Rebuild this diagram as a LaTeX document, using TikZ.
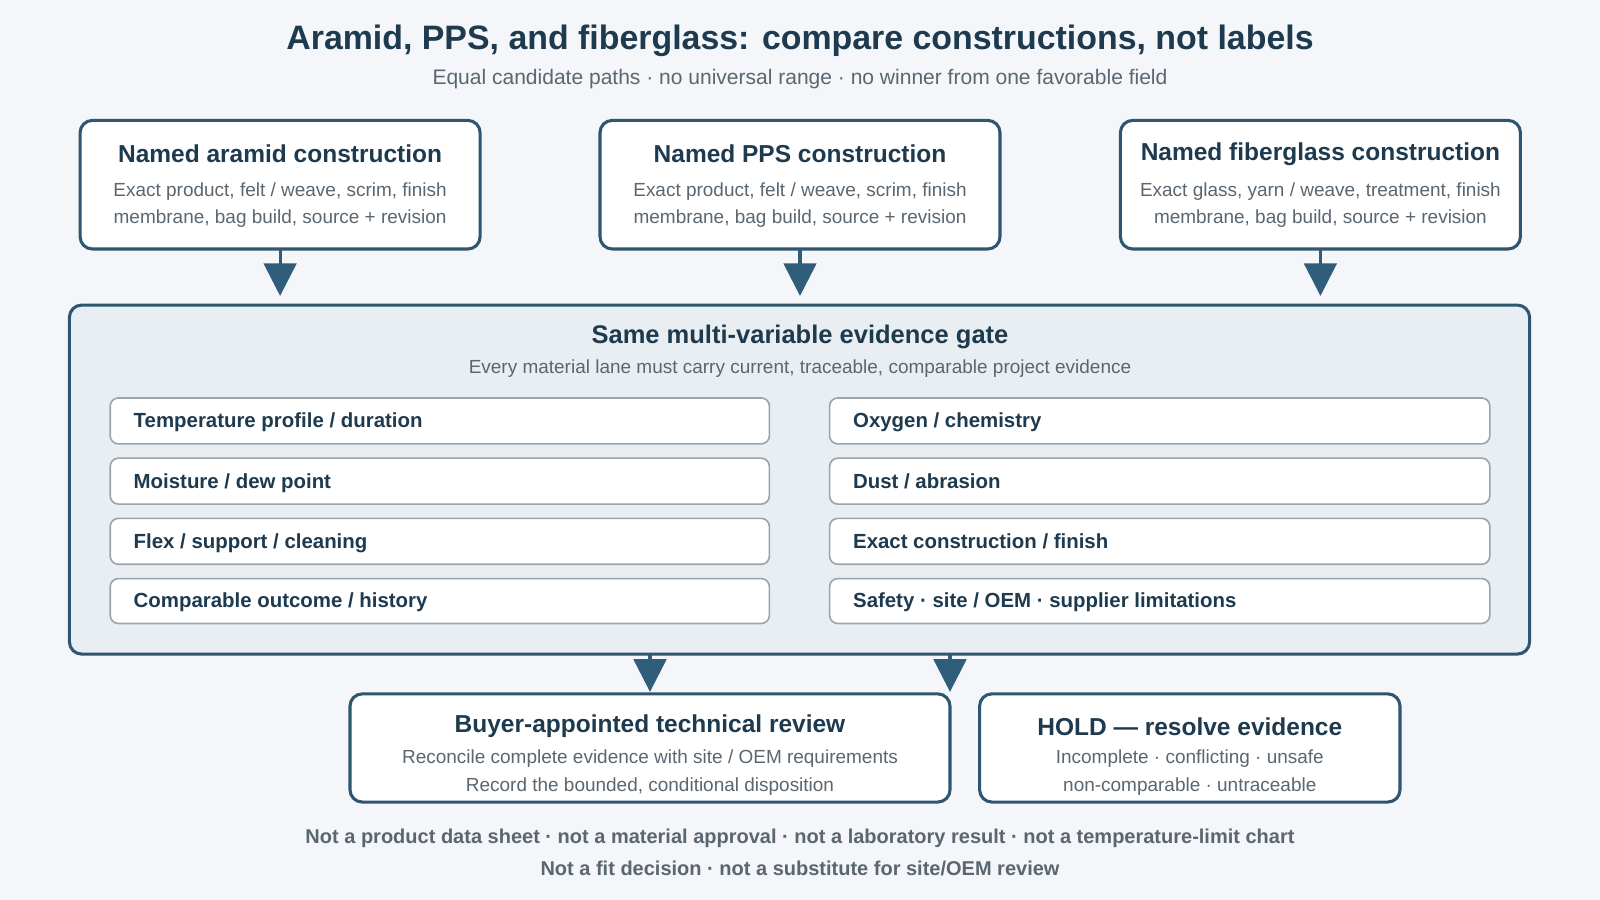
\documentclass[tikz,border=0pt]{standalone}
\usepackage{fontspec}
\setmainfont{Liberation Sans}
\usetikzlibrary{arrows.meta}
\definecolor{bg}{HTML}{F4F6F9}
\definecolor{navy}{HTML}{1E3A4E}
\definecolor{edge}{HTML}{2F5670}
\definecolor{arr}{HTML}{2F5D7A}
\definecolor{gatefill}{HTML}{E9EEF2}
\definecolor{rowedge}{HTML}{9AA5AE}
\definecolor{gtxt}{HTML}{5A6670}
\begin{document}
\begin{tikzpicture}[x=0.5pt,y=-0.5pt,
  box/.style={draw=edge,line width=1.5pt,fill=white,rounded corners=6pt},
  row/.style={draw=rowedge,line width=0.8pt,fill=white,rounded corners=4pt},
  ttl/.style={text=navy,font=\bfseries\fontsize{12}{14}\selectfont},
  body/.style={text=gtxt,font=\fontsize{9.3}{13.5}\selectfont,align=center},
  rt/.style={text=navy,font=\bfseries\fontsize{10}{12}\selectfont,anchor=west},
  ar/.style={draw=arr,line width=1.5pt,-{Triangle[length=16pt,width=16pt]}}]
\fill[bg] (0,0) rectangle (1568,882);
\useasboundingbox (0,0) rectangle (1568,882);
\node[text=navy,font=\bfseries\fontsize{16.6}{18}\selectfont] (title) at (784,40) {Aramid, PPS, and fiberglass: compare constructions, not labels};
\node[text=gtxt,font=\fontsize{10.3}{12}\selectfont] (sub) at (784,77) {Equal candidate paths · no universal range · no winner from one favorable field};
% top boxes
\foreach \n/\x/\t/\a in {a/274.5/Named aramid construction/{Exact product, felt {/} weave, scrim, finish},
  p/784/Named PPS construction/{Exact product, felt {/} weave, scrim, finish},
  f/1294/Named fiberglass construction/{Exact glass, yarn {/} weave, treatment, finish}}{
  \draw[box] (\x-196,118) rectangle (\x+196,244);
  \node[ttl] at (\x,151) {\t};
  \node[body] at (\x,201) {\a\\membrane, bag build, source + revision};
  \coordinate (\n) at (\x,244);
  \coordinate (\n g) at (\x,290);
  \draw[ar] (\n) -- (\n g);
}
% gate
\draw[box,fill=gatefill] (68,299) rectangle (1499,641);
\node[ttl,font=\bfseries\fontsize{12.5}{14}\selectfont] (gt) at (784,330) {Same multi-variable evidence gate};
\node[body] (gs) at (784,361) {Every material lane must carry current, traceable, comparable project evidence};
\draw[row] (108,390) rectangle (754,435); \draw[row] (813,390) rectangle (1460,435);
\draw[row] (108,449) rectangle (754,494); \draw[row] (813,449) rectangle (1460,494);
\draw[row] (108,508) rectangle (754,553); \draw[row] (813,508) rectangle (1460,553);
\draw[row] (108,567) rectangle (754,611); \draw[row] (813,567) rectangle (1460,611);
\node[rt] (l1) at (124,414.5) {Temperature profile / duration\strut};
\node[rt] (r1t) at (829,414.5) {Oxygen / chemistry\strut};
\node[rt] (l2) at (124,473.5) {Moisture / dew point\strut};
\node[rt] (r2t) at (829,473.5) {Dust / abrasion\strut};
\node[rt] (l3) at (124,532.5) {Flex / support / cleaning\strut};
\node[rt] (r3t) at (829,532.5) {Exact construction / finish\strut};
\node[rt] (l4) at (124,591) {Comparable outcome / history\strut};
\node[rt] (r4t) at (829,591) {Safety · site / OEM · supplier limitations\strut};
% bottom arrows
\coordinate (g1) at (637,641); \coordinate (r1) at (637,678);
\coordinate (g2) at (931,641); \coordinate (r2) at (931,678);
\draw[ar] (g1) -- (r1);
\draw[ar] (g2) -- (r2);
% bottom boxes
\draw[box] (343,680) rectangle (931,786);
\node[ttl] (rv) at (637,712) {Buyer-appointed technical review};
\node[body] at (637,757) {Reconcile complete evidence with site / OEM requirements\\Record the bounded, conditional disposition};
\draw[box] (960,680) rectangle (1372,786);
\node[ttl] (hd) at (1166,712) {HOLD — resolve evidence};
\node[body] at (1166,757) {Incomplete · conflicting · unsafe\\non-comparable · untraceable};
% footer
\node[text=gtxt,font=\bfseries\fontsize{9.8}{12}\selectfont] (f1) at (784,822) {Not a product data sheet · not a material approval · not a laboratory result · not a temperature-limit chart};
\node[text=gtxt,font=\bfseries\fontsize{9.8}{12}\selectfont] (f2) at (784,851) {Not a fit decision · not a substitute for site/OEM review};
\end{tikzpicture}
\end{document}
